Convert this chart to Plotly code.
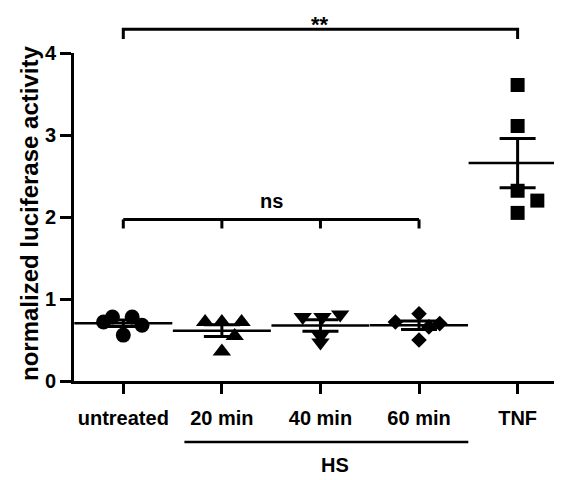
import numpy as np
import plotly.graph_objects as go

# ---- data ----
categories = ["untreated", "20 min", "40 min", "60 min", "TNF"]
untreated = [0.78, 0.78, 0.72, 0.68, 0.56]
hs_20 = [0.72, 0.72, 0.72, 0.55, 0.36]
hs_40 = [0.78, 0.78, 0.81, 0.47, 0.55]
hs_60 = [0.82, 0.72, 0.70, 0.66, 0.50]
tnf = [3.61, 3.11, 2.32, 2.20, 2.05]
y_ticks = [0, 1, 2, 3, 4]
y_title = "normalized luciferase activity"
group_label = "HS"
sig_all = "**"
sig_hs = "ns"

groups = [untreated, hs_20, hs_40, hs_60, tnf]

# ---- style ----
symbols = ["circle", "triangle-up", "triangle-down", "diamond", "square"]
sizes = [15, 16, 16, 12, 14]
spread = [
    [-0.11, 0.09, -0.20, 0.19, 0.0],
    [-0.17, 0.0, 0.20, 0.13, 0.0],
    [-0.18, 0.02, 0.20, 0.0, 0.0],
    [0.0, -0.24, 0.21, 0.10, 0.0],
    [0.0, 0.0, 0.0, 0.20, 0.0],
]
FONT = "Liberation Sans, Arial, sans-serif"
XR = [-0.5, 4.43]
YR = [0, 4]


def px(v):
    return (v - XR[0]) / (XR[1] - XR[0])


def py(v):
    return (v - YR[0]) / (YR[1] - YR[0])


fig = go.Figure()

for i, vals in enumerate(groups):
    fig.add_trace(go.Scatter(
        x=[i + o for o in spread[i]], y=vals, mode="markers",
        marker=dict(symbol=symbols[i], size=sizes[i], color="black", line=dict(width=0)),
        cliponaxis=False, hoverinfo="y"))

for i, vals in enumerate(groups):
    arr = np.array(vals)
    mean = arr.mean()
    sem = arr.std(ddof=1) / np.sqrt(len(arr))
    fig.add_trace(go.Scatter(
        x=[i], y=[mean], mode="markers",
        marker=dict(symbol="line-ew-open", size=70, color="black", line=dict(width=2.5, color="black")),
        error_y=dict(type="data", array=[sem], visible=True, color="black", thickness=3, width=18),
        cliponaxis=False, hoverinfo="y"))

shapes = []
line = dict(color="black", width=3)
# ** bracket
top, top_drop = 4.29, 4.17
shapes.append(dict(type="path", xref="paper", yref="paper",
                   path=f"M {px(0)},{py(top_drop)} L {px(0)},{py(top)} L {px(4)},{py(top)} L {px(4)},{py(top_drop)}",
                   line=line))
# ns bracket
ns_y, ns_drop = 1.97, 1.86
shapes.append(dict(type="line", xref="paper", yref="paper", x0=px(0), x1=px(3), y0=py(ns_y), y1=py(ns_y), line=line))
for k in range(4):
    shapes.append(dict(type="line", xref="paper", yref="paper", x0=px(k), x1=px(k),
                       y0=py(ns_y), y1=py(ns_drop), line=line))
# HS underline
shapes.append(dict(type="line", xref="paper", yref="paper", x0=px(0.62), x1=px(3.5),
                   y0=-0.186, y1=-0.186, line=dict(color="black", width=2.5)))

annotations = [
    dict(x=px(2), y=1.132, xref="paper", yref="paper", text=f"<b>{sig_all}</b>", showarrow=False,
         xanchor="center", yanchor="top",
         font=dict(family=FONT, size=22, color="black")),
    dict(x=px(1.5), y=py(2.2), xref="paper", yref="paper", text=f"<b>{sig_hs}</b>", showarrow=False,
         xanchor="center", yanchor="middle",
         font=dict(family=FONT, size=20, color="black")),
    dict(x=px(2.15), y=-0.256, xref="paper", yref="paper", text=f"<b>{group_label}</b>", showarrow=False,
         xanchor="center", yanchor="middle",
         font=dict(family=FONT, size=20, color="black")),
    dict(x=-0.092, y=0.51, xref="paper", yref="paper", text=f"<b>{y_title}</b>", showarrow=False,
         xanchor="center", yanchor="middle", textangle=-90,
         font=dict(family=FONT, size=24, color="black")),
]

# page body has an 8px default margin; compensate so the plot area sits where the reference has it
fig.update_layout(
    width=562, height=480,
    margin=dict(l=66, r=10, t=45, b=107, autoexpand=False),
    plot_bgcolor="white", paper_bgcolor="white",
    showlegend=False,
    shapes=shapes, annotations=annotations,
    xaxis=dict(range=XR, tickmode="array", tickvals=list(range(len(categories))),
               ticktext=[f"<b>{c}</b>" for c in categories],
               showline=True, linecolor="black", linewidth=3,
               ticks="outside", ticklen=10, tickwidth=3, tickcolor="black",
               ticklabelstandoff=7, automargin=False,
               tickfont=dict(family=FONT, size=20, color="black"),
               showgrid=False, zeroline=False),
    yaxis=dict(range=YR, tickmode="array", tickvals=y_ticks,
               ticktext=[f"<b>{t}</b>" for t in y_ticks],
               showline=True, linecolor="black", linewidth=3,
               ticks="outside", ticklen=11, tickwidth=3, tickcolor="black",
               automargin=False,
               tickfont=dict(family=FONT, size=20, color="black"),
               showgrid=False, zeroline=False),
)

fig.write_html("out.html")
